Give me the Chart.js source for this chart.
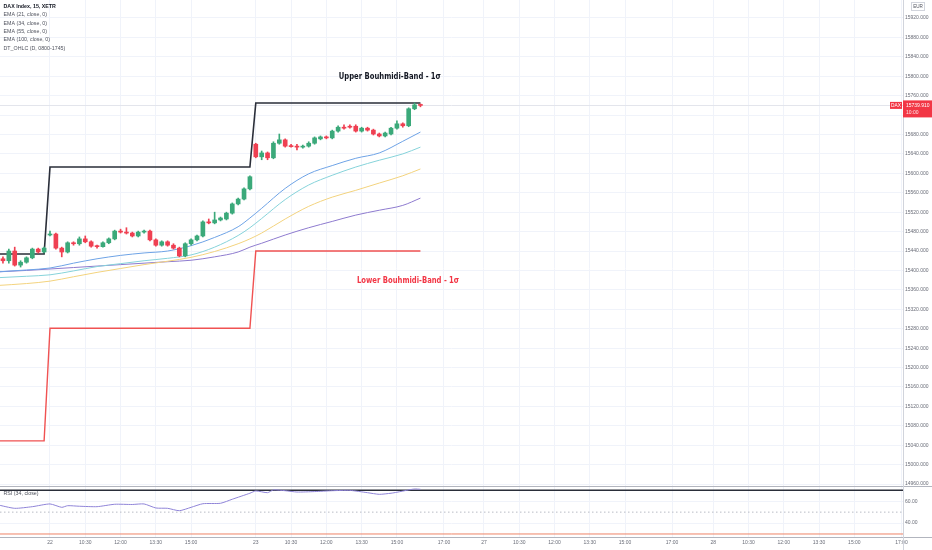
<!DOCTYPE html>
<html lang="de">
<head>
  <meta charset="UTF-8" />
  <title>DAX Index 15m | Bouhmidi-Bands</title>
  <script src="https://cdn.jsdelivr.net/npm/chart.js"></script>
  <style>
    html,body{margin:0;padding:0;background:#fff;}
    #wrap{width:932px;height:550px;}
  </style>
</head>
<body>
<div id="wrap"><canvas id="dax" width="932" height="550"></canvas></div>
<script>
// bar index: 0 = 22nd 09:00, one step = 15 min (35 bars per session)
const firstBar = -8;
const open  = [15424,15420,15440,15411,15417,15426,15444,15438,
  15473,15475,15446,15438,15457,15455,15465,15459,15450,15449,15457,15465,15481,15479,15477,15471,15479,15481,15463,15452,15459,15452,15446,15430,15455,15463,15471,15500,15498,15504,15506,15518,15537,15547,15568,
  15660,15634,15642,15632,15662,15669,15657,15656,15654,15656,15662,15671,15675,15673,15687,15695,15697,15697,15687,15693,15689,15681,15677,15681,15693,15702,15698,15733,15741];
const high  = [15428,15444,15448,15420,15428,15446,15446,15448,
  15481,15477,15448,15459,15459,15469,15471,15461,15452,15459,15467,15483,15485,15488,15479,15481,15483,15483,15465,15461,15461,15455,15448,15457,15465,15473,15502,15506,15520,15510,15520,15539,15549,15570,15595,
  15662,15646,15644,15665,15681,15671,15660,15660,15658,15665,15675,15677,15677,15689,15698,15700,15700,15700,15695,15695,15691,15683,15685,15695,15708,15704,15735,15745,15743];
const low   = [15415,15415,15409,15407,15415,15424,15436,15436,
  15471,15444,15428,15436,15452,15452,15457,15448,15446,15448,15455,15463,15477,15475,15469,15469,15477,15461,15450,15450,15450,15444,15428,15428,15452,15461,15469,15496,15496,15502,15504,15516,15535,15545,15566,
  15632,15628,15628,15630,15660,15654,15654,15648,15652,15654,15660,15669,15671,15671,15685,15691,15693,15685,15685,15687,15679,15675,15675,15679,15691,15695,15696,15731,15737];
const close = [15420,15440,15411,15417,15426,15444,15438,15446,
  15475,15446,15438,15457,15455,15465,15459,15450,15449,15457,15465,15481,15479,15477,15471,15479,15481,15463,15452,15459,15452,15446,15430,15455,15463,15471,15500,15498,15504,15508,15518,15537,15547,15568,15593,
  15634,15642,15632,15662,15669,15656,15655,15654,15656,15662,15673,15675,15673,15687,15695,15693,15695,15687,15693,15689,15681,15677,15683,15693,15702,15698,15733,15741,15739.91];

// EMA readings
const emaBars = [-9,-4,0,4,8,12,16,20,24,28,32,34,36,40,44,48,52,56,60,63];
const ema21  = [15397,15401,15405,15415,15424,15431,15436,15440,15451,15468,15490,15508,15528,15569,15599,15616,15631,15642,15666,15685];
const ema34  = [15385,15388,15391,15399,15408,15414,15420,15425,15432,15448,15472,15488,15507,15546,15576,15596,15613,15627,15640,15654];
const ema55  = [15369,15373,15378,15387,15396,15404,15412,15419,15427,15439,15455,15465,15477,15506,15532,15551,15565,15580,15595,15609];
const ema100 = [15397,15400,15403,15406,15409,15412,15415,15418,15421,15428,15438,15448,15456,15473,15488,15501,15514,15524,15534,15549];

// Bouhmidi bands (daily steps)
const bandBars  = [-9,-1,0,34,35,63];
const upperBand = [15434,15434,15613,15613,15745,15745];
const lowerBand = [15049,15049,15281,15281,15440,15440];

// RSI (34)
const rsiBars = [-9,-6,-3,0,2,3,5,8,11,14,16,18,20,22,24,26,29,31,34,35,37,38,40,42,45,48,51,54,56,58,59,61,62,63];
const rsiVals = [56.8,53.5,55.0,57.5,54.4,55.9,55.4,55.0,57.2,57.0,57.5,53.8,53.5,51.3,54.4,57.7,58.1,61.8,67.3,69.4,67.8,70.3,69.6,68.4,68.8,69.6,69.9,67.8,66.3,67.3,68.2,70.3,71.2,70.9];
const rsiLevels = [70, 50, 30];
const rsiTicks = [40, 60];

// axes
const priceTicks = [14960,15000,15040,15080,15120,15160,15200,15240,15280,15320,15360,15400,15440,15480,
  15520,15560,15600,15640,15680,15720,15760,15800,15840,15880,15920];
const xTickPos  = [0,6,12,18,24,35,41,47,53,59,67,73.8,79.8,85.8,91.8,97.8,105.8,112.8,118.8,124.8,130.8,136.8,144.8];
const xTickText = ['22','10:30','12:00','13:30','15:00','23','10:30','12:00','13:30','15:00','17:00','27','10:30','12:00','13:30','15:00','17:00','28','10:30','12:00','13:30','15:00','17:00'];

const legendLines = ['DAX Index, 15, XETR','EMA (21, close, 0)','EMA (34, close, 0)','EMA (55, close, 0)','EMA (100, close, 0)','DT_OHLC (D, 0800-1745)'];

const X_MIN = -8.503, X_MAX = 145.07;
const UP = '#3ba97a', DOWN = '#ef4052', TAG = '#f23645';
const FONT = '"Liberation Sans", Arial, sans-serif';

const bars = open.map((_, k) => firstBar + k);
const candleCol = bars.map((_, k) => close[k] >= open[k] ? UP : DOWN);
const pts = (xs, ys) => xs.map((x, k) => ({x, y: ys[k]}));
const flat = v => [{x: X_MIN, y: v}, {x: X_MAX, y: v}];

const bandNotes = [
  {text: 'Upper Bouhmidi-Band - 1σ', bar: 57.8, price: 15800, color: '#131722'},
  {text: 'Lower Bouhmidi-Band - 1σ', bar: 60.9, price: 15380, color: TAG}
];

const noPad = s => { s.paddingTop = 0; s.paddingBottom = 0; s.paddingLeft = 0; s.paddingRight = 0; };

const overlay = {
  id: 'overlay',
  beforeDatasetsDraw(chart) {
    const {ctx, chartArea: a, scales: {y}} = chart;
    const py = Math.round(y.getPixelForValue(close[close.length - 1])) + 0.5;
    ctx.save();
    ctx.strokeStyle = '#e3e5ec';
    ctx.lineWidth = 1;
    ctx.beginPath(); ctx.moveTo(a.left, py); ctx.lineTo(a.right, py); ctx.stroke();
    ctx.restore();
  },
  afterDatasetsDraw(chart) {
    const {ctx, scales: {x, y}} = chart;
    ctx.save();
    ctx.font = 'bold 9.5px "DejaVu Sans Condensed", ' + FONT;
    ctx.textAlign = 'center';
    ctx.textBaseline = 'middle';
    bandNotes.forEach(n => {
      ctx.save();
      ctx.translate(x.getPixelForValue(n.bar), y.getPixelForValue(n.price));
      ctx.scale(0.8, 1);
      ctx.fillStyle = n.color;
      ctx.fillText(n.text, 0, 0);
      ctx.restore();
    });
    ctx.restore();
  },
  afterDraw(chart) {
    const {ctx, chartArea: a, scales: {y, rsi}} = chart;
    const W = chart.width, H = chart.height;
    ctx.save();
    // pane separators and axis border
    ctx.strokeStyle = '#b2b5be';
    ctx.lineWidth = 1;
    const sep = Math.round(rsi.top) - 0.5;
    ctx.beginPath(); ctx.moveTo(0, sep); ctx.lineTo(W, sep); ctx.stroke();
    const bot = Math.round(a.bottom) + 0.5;
    ctx.beginPath(); ctx.moveTo(0, bot); ctx.lineTo(W, bot); ctx.stroke();
    ctx.strokeStyle = '#d1d4dc';
    const vx = Math.round(a.right) + 0.5;
    ctx.beginPath(); ctx.moveTo(vx, 0); ctx.lineTo(vx, H); ctx.stroke();

    // legend
    ctx.textAlign = 'left';
    ctx.textBaseline = 'middle';
    legendLines.forEach((t, k) => {
      ctx.font = (k === 0 ? 'bold ' : '') + '5.3px ' + FONT;
      ctx.fillStyle = k === 0 ? '#131722' : '#50535e';
      ctx.fillText(t, 3.5, 6.7 + k * 8.3);
    });
    ctx.font = '5.3px ' + FONT;
    ctx.fillStyle = '#50535e';
    ctx.fillText('RSI (34, close)', 3.5, rsi.top + 7);

    // currency box
    ctx.strokeStyle = '#d1d4dc';
    ctx.strokeRect(911.5, 2.5, 13, 8);
    ctx.fillStyle = '#50535e';
    ctx.font = '4.6px ' + FONT;
    ctx.textAlign = 'center';
    ctx.fillText('EUR', 918, 6.7);

    // last price label
    const last = close[close.length - 1];
    const py = y.getPixelForValue(last);
    ctx.fillStyle = TAG;
    ctx.fillRect(a.right, py - 5, W - a.right, 17);
    ctx.fillRect(a.right - 13, py - 3.5, 12, 7);
    ctx.fillStyle = '#fff';
    ctx.font = '4.8px ' + FONT;
    ctx.fillText('DAX', a.right - 7, py);
    ctx.textAlign = 'left';
    ctx.font = '5px ' + FONT;
    ctx.fillText(last.toFixed(3), a.right + 3, py);
    ctx.fillStyle = '#fde3e5';
    ctx.fillText('10:00', a.right + 3, py + 7);
    ctx.restore();
  }
};

new Chart(document.getElementById('dax').getContext('2d'), {
  type: 'bar',
  data: {
    datasets: [
      {type: 'bar', data: bars.map((b, k) => ({x: b, y: [open[k], close[k]]})),
       backgroundColor: candleCol, barThickness: 4, minBarLength: 1, grouped: false},
      {type: 'bar', data: bars.map((b, k) => ({x: b, y: [low[k], high[k]]})),
       backgroundColor: candleCol, barThickness: 1, grouped: false},
      {type: 'line', data: pts(bandBars, upperBand), borderColor: '#2a2e39', borderWidth: 1.6, pointRadius: 0},
      {type: 'line', data: pts(bandBars, lowerBand), borderColor: '#f05252', borderWidth: 1.4, pointRadius: 0},
      {type: 'line', data: pts(emaBars, ema21),  borderColor: '#6ea3e6', borderWidth: 1, pointRadius: 0, cubicInterpolationMode: 'monotone'},
      {type: 'line', data: pts(emaBars, ema34),  borderColor: '#86d3da', borderWidth: 1, pointRadius: 0, cubicInterpolationMode: 'monotone'},
      {type: 'line', data: pts(emaBars, ema55),  borderColor: '#f3d37e', borderWidth: 1, pointRadius: 0, cubicInterpolationMode: 'monotone'},
      {type: 'line', data: pts(emaBars, ema100), borderColor: '#8e7bcf', borderWidth: 1, pointRadius: 0, cubicInterpolationMode: 'monotone'},
      {type: 'line', data: pts(rsiBars, rsiVals), yAxisID: 'rsi', borderColor: '#8f84d8', borderWidth: 1, pointRadius: 0, tension: 0.2},
      {type: 'line', data: flat(rsiLevels[0]), yAxisID: 'rsi', borderColor: '#2a2e39', borderWidth: 1.6, pointRadius: 0},
      {type: 'line', data: flat(rsiLevels[1]), yAxisID: 'rsi', borderColor: '#b8bbc4', borderWidth: 1, borderDash: [1.5, 2.5], pointRadius: 0},
      {type: 'line', data: flat(rsiLevels[2]), yAxisID: 'rsi', borderColor: '#ef8467', borderWidth: 1, pointRadius: 0}
    ]
  },
  options: {
    responsive: false,
    animation: false,
    events: [],
    layout: {padding: 0},
    plugins: {legend: {display: false}, tooltip: {enabled: false}},
    scales: {
      x: {
        type: 'linear', min: X_MIN, max: X_MAX, offset: false,
        grid: {color: '#f0f3fa', drawTicks: false, offset: false},
        border: {display: false},
        afterBuildTicks: s => { s.ticks = xTickPos.map(v => ({value: v})); },
        afterFit: s => { s.height = 13; noPad(s); },
        ticks: {autoSkip: false, maxRotation: 0, padding: 3, color: '#6a6d78',
                font: {size: 5, family: FONT}, callback: (v, i) => xTickText[i]}
      },
      y: {
        type: 'linear', axis: 'y', position: 'right', stack: 'pane', stackWeight: 487,
        min: 14954, max: 15957, bounds: 'data',
        grid: {color: '#f0f3fa', drawTicks: false},
        border: {display: false},
        afterBuildTicks: s => { s.ticks = priceTicks.map(v => ({value: v})); },
        afterFit: s => { s.width = 29; noPad(s); },
        ticks: {autoSkip: false, padding: 2, color: '#6a6d78',
                font: {size: 5, family: FONT}, callback: v => v.toFixed(3)}
      },
      rsi: {
        type: 'linear', axis: 'y', position: 'right', stack: 'pane', stackWeight: 50,
        min: 27.25, max: 73, bounds: 'data',
        grid: {color: '#f0f3fa', drawTicks: false},
        border: {display: false},
        afterBuildTicks: s => { s.ticks = rsiTicks.map(v => ({value: v})); },
        afterFit: s => { s.width = 29; noPad(s); },
        ticks: {padding: 2, color: '#6a6d78', font: {size: 5, family: FONT}, callback: v => v.toFixed(2)}
      }
    }
  },
  plugins: [overlay]
});
</script>
</body>
</html>
